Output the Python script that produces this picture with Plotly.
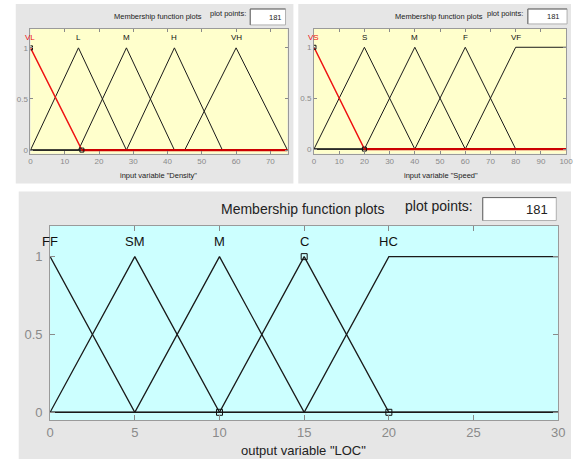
import plotly.graph_objects as go

# ---------------- data ----------------
density_range = [0, 75]
density_labels = ["VL", "L", "M", "H", "VH"]
density_params = [[0, 0, 15], [0, 14, 28], [14, 28, 42], [28, 42, 56], [45, 60, 75]]
density_ticks = [0, 10, 20, 30, 40, 50, 60, 70]

speed_range = [0, 100]
speed_labels = ["VS", "S", "M", "F", "VF"]
speed_params = [[0, 0, 20], [0, 20, 40], [20, 40, 60], [40, 60, 80], [60, 80, 100, 100]]
speed_ticks = [0, 10, 20, 30, 40, 50, 60, 70, 80, 90, 100]

loc_range = [0, 30]
loc_labels = ["FF", "SM", "M", "C", "HC"]
loc_params = [[0, 0, 5], [0, 5, 10], [5, 10, 15], [10, 15, 20], [15, 20, 30, 30]]
loc_ticks = [0, 5, 10, 15, 20, 25, 30]

y_ticks = [0, 0.5, 1]
y_ticklabels = ["0", "0.5", "1"]
plot_points = "181"

# ---------------- helpers ----------------
W, H = 578, 460


def fx(x):
    return x / W


def fy(y):
    return 1 - y / H


def mf_polyline(p, rng):
    lo, hi = rng
    if len(p) == 3:
        a, b, c = p
        pts = [(lo, 0), (a, 0 if a != b else 1), (b, 1), (c, 0), (hi, 0)]
    else:
        a, b, c, d = p
        pts = [(lo, 0), (a, 0), (b, 1), (c, 1)]
        if d < hi:
            pts += [(d, 0), (hi, 0)]
    out = []
    for x, y in pts:
        if out and out[-1] == (x, y):
            continue
        out.append((x, y))
    if p[0] == p[1] == lo:
        out = [(x, y) for x, y in out if not (x == lo and y == 0)]
    return [q[0] for q in out], [q[1] for q in out]


FONT = "Liberation Sans, Arial, sans-serif"
fig = go.Figure()

panels = [
    dict(rng=density_range, labels=density_labels, params=density_params, ticks=density_ticks,
         xdom=[27, 289], ydom=[29, 154], yr=[-0.035, 1.185], sel=0, sel_red=True,
         markers=[(0, 1), (15, 0)], fs=8, lab_y=38, msize=4, ticklen=3, lw=1, ystand=0),
    dict(rng=speed_range, labels=speed_labels, params=speed_params, ticks=speed_ticks,
         xdom=[316, 573], ydom=[29, 154], yr=[-0.045, 1.18], sel=0, sel_red=True,
         markers=[(0, 1), (20, 0)], fs=8, lab_y=38, msize=4, ticklen=3, lw=1, ystand=0),
    dict(rng=loc_range, labels=loc_labels, params=loc_params, ticks=loc_ticks,
         xdom=[47, 565], ydom=[226, 421], yr=[-0.05, 1.2], sel=3, sel_red=False,
         markers=[(10, 0), (15, 1), (20, 0)], fs=13, lab_y=242, msize=6, ticklen=5, lw=1.3,
         ystand=4),
]

for i, P in enumerate(panels):
    n = "" if i == 0 else str(i + 1)
    xa, ya = "x" + n, "y" + n
    for k, (lab, p) in enumerate(zip(P["labels"], P["params"])):
        xs, ys = mf_polyline(p, P["rng"])
        if k == P["sel"] and P["sel_red"]:
            continue
        fig.add_trace(go.Scatter(x=xs, y=ys, mode="lines", xaxis=xa, yaxis=ya,
                                 line=dict(color="#1a1a1a", width=P["lw"]), hoverinfo="skip",
                                 showlegend=False))
    if P["sel_red"]:
        xs, ys = mf_polyline(P["params"][P["sel"]], P["rng"])
        fig.add_trace(go.Scatter(x=xs, y=ys, mode="lines", xaxis=xa, yaxis=ya,
                                 line=dict(color="#ee1111", width=1.5), hoverinfo="skip",
                                 showlegend=False))
        fig.add_trace(go.Scatter(x=[P["params"][P["sel"]][2], P["rng"][1]], y=[0, 0], mode="lines",
                                 xaxis=xa, yaxis=ya, line=dict(color="#cc0000", width=2.2),
                                 hoverinfo="skip", showlegend=False))
    mx = [m[0] for m in P["markers"]]
    my = [m[1] for m in P["markers"]]
    fig.add_trace(go.Scatter(x=mx, y=my, mode="markers", xaxis=xa, yaxis=ya,
                             marker=dict(symbol="square-open", size=P["msize"], color="#111111",
                                         line=dict(width=1)),
                             hoverinfo="skip", showlegend=False))
    for k, (lab, p) in enumerate(zip(P["labels"], P["params"])):
        peak = p[1]
        col = "#ee1111" if (k == P["sel"] and P["sel_red"]) else "#111111"
        fig.add_annotation(x=peak, y=fy(P["lab_y"]), xref=xa, yref="paper", text=lab,
                           showarrow=False, font=dict(family=FONT, size=P["fs"], color=col),
                           xanchor="center", yanchor="middle")
    tf = dict(family=FONT, size=P["fs"], color="#8a8a8a")
    fig.layout["xaxis" + n] = dict(domain=[fx(P["xdom"][0]), fx(P["xdom"][1])], range=P["rng"],
                                   anchor=ya, tickvals=P["ticks"], ticks="inside",
                                   ticklen=P["ticklen"], tickcolor="#8a8a8a", showline=True,
                                   linecolor="#9a9a9a", linewidth=1, mirror="ticks",
                                   showgrid=False, zeroline=False, tickfont=tf)
    fig.layout["yaxis" + n] = dict(domain=[fy(P["ydom"][1]), fy(P["ydom"][0])], range=P["yr"],
                                   anchor=xa, tickvals=y_ticks, ticktext=y_ticklabels,
                                   ticks="inside", ticklen=P["ticklen"], tickcolor="#8a8a8a",
                                   showline=True, linecolor="#9a9a9a", linewidth=1,
                                   mirror="ticks", showgrid=False, zeroline=False, tickfont=tf,
                                   ticklabelstandoff=P["ystand"])

shapes = [
    dict(type="rect", xref="paper", yref="paper", x0=fx(12), x1=fx(295), y0=fy(184), y1=fy(4),
         fillcolor="#e6e6e6", line=dict(width=0), layer="below"),
    dict(type="rect", xref="paper", yref="paper", x0=fx(300), x1=fx(578), y0=fy(184), y1=fy(4),
         fillcolor="#e6e6e6", line=dict(width=0), layer="below"),
    dict(type="rect", xref="paper", yref="paper", x0=fx(15), x1=fx(578), y0=fy(460), y1=fy(192),
         fillcolor="#e6e6e6", line=dict(width=0), layer="below"),
    dict(type="rect", xref="x domain", yref="y domain", x0=0, x1=1, y0=0, y1=1,
         fillcolor="#ffffcc", line=dict(width=0), layer="below"),
    dict(type="rect", xref="x2 domain", yref="y2 domain", x0=0, x1=1, y0=0, y1=1,
         fillcolor="#ffffcc", line=dict(width=0), layer="below"),
    dict(type="rect", xref="x3 domain", yref="y3 domain", x0=0, x1=1, y0=0, y1=1,
         fillcolor="#ccffff", line=dict(width=0), layer="below"),
]
boxes = [(251, 287, 9, 25), (534, 574, 9, 24), (488, 563, 198, 221)]
for x0, x1, y0, y1 in boxes:
    shapes.append(dict(type="rect", xref="paper", yref="paper", x0=fx(x0), x1=fx(x1),
                       y0=fy(y1), y1=fy(y0), fillcolor="#ffffff",
                       line=dict(color="#b0b0b0", width=1), layer="below"))
    # sunken edge: darker top and left
    shapes.append(dict(type="path", xref="paper", yref="paper",
                       path=f"M {fx(x0)},{fy(y1)} L {fx(x0)},{fy(y0)} L {fx(x1)},{fy(y0)}",
                       line=dict(color="#6a6a6a", width=1), layer="below"))
fig.update_layout(shapes=shapes)

texts = [
    ("Membership function plots", 157, 17, 7.5, "center"),
    ("plot points:", 228, 14, 7.5, "center"),
    (plot_points, 285, 18, 7.5, "right"),
    ('input variable "Density"', 157, 176, 7.5, "center"),
    ("Membership function plots", 443, 17, 7.5, "center"),
    ("plot points:", 511, 14, 7.5, "center"),
    (plot_points, 569, 17, 7.5, "right"),
    ('input variable "Speed"', 445, 176, 7.5, "center"),
    ("Membership function plots", 304, 209, 14, "center"),
    ("plot points:", 443, 206, 14, "center"),
    (plot_points, 557, 210, 13, "right"),
    ('output variable "LOC"', 305, 451, 13, "center"),
]
for t, x, y, s, anc in texts:
    fig.add_annotation(x=fx(x), y=fy(y), xref="paper", yref="paper", text=t, showarrow=False,
                       xanchor=anc, yanchor="middle",
                       font=dict(family=FONT, size=s, color="#222222"))

fig.update_layout(width=W, height=H, margin=dict(l=0, r=0, t=0, b=0),
                  paper_bgcolor="#ffffff", plot_bgcolor="rgba(0,0,0,0)", showlegend=False)
fig.write_html("out.html", config={"displayModeBar": False},
               post_script="document.body.style.margin='0px';")
